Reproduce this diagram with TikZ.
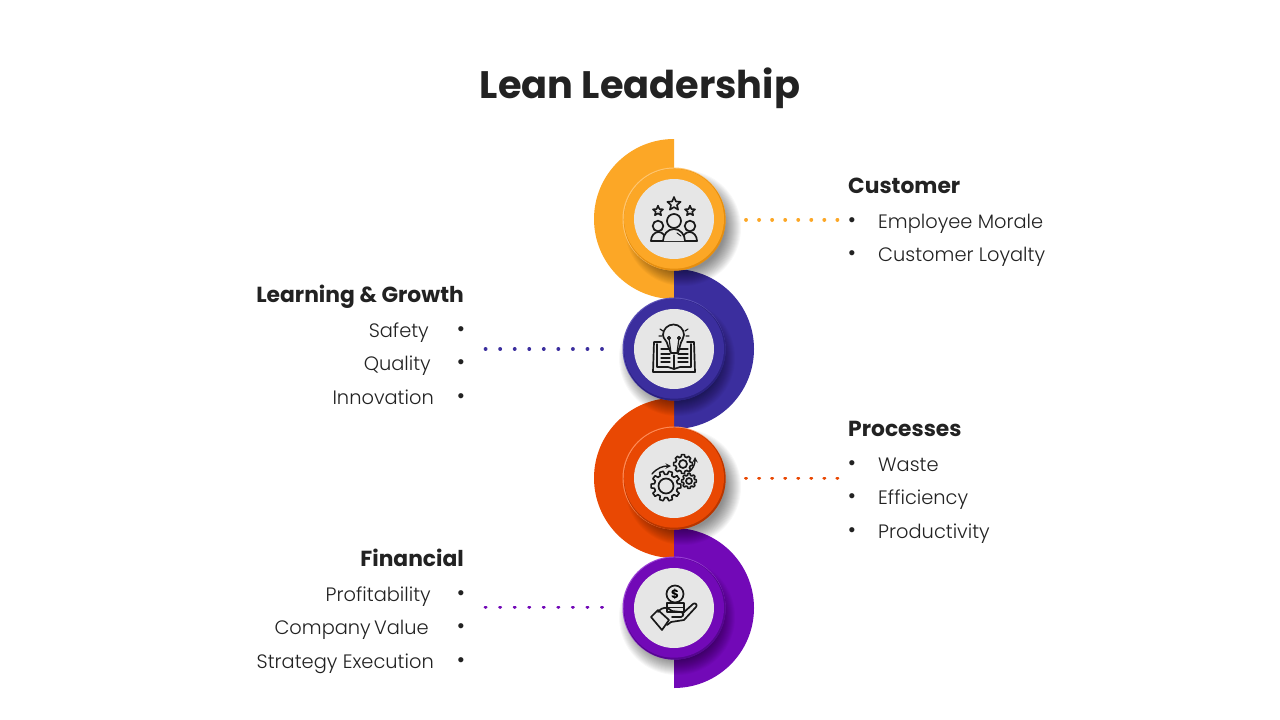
\documentclass[tikz,border=0pt]{standalone}
\usepackage{fontspec}
\setmainfont{Poppins Light}[BoldFont=Poppins Bold]
\newfontfamily\titlefont{Poppins Bold}
\newfontfamily\bulfont{Liberation Sans}
\usetikzlibrary{calc}
\definecolor{ink}{HTML}{222222}
\definecolor{cO}{HTML}{FCA726}\definecolor{cOd}{HTML}{E58E10}\definecolor{cOl}{HTML}{FFC56E}
\definecolor{cB}{HTML}{3B2E9E}\definecolor{cBd}{HTML}{2B2180}\definecolor{cBl}{HTML}{5B50B8}
\definecolor{cR}{HTML}{E94803}\definecolor{cRd}{HTML}{B83600}\definecolor{cRl}{HTML}{FF8A55}
\definecolor{cP}{HTML}{7209B7}\definecolor{cPd}{HTML}{560690}\definecolor{cPl}{HTML}{9A3FD6}
\definecolor{disc}{HTML}{E6E6E6}
\tikzset{
  x=1pt,y=-1pt,
  head/.style={font=\fontsize{21.8}{24}\selectfont\bfseries,text=ink,inner sep=0pt},
  ttl/.style={font=\fontsize{38.3}{40}\titlefont,text=ink,inner sep=0pt},
  item/.style={font=\fontsize{19.4}{22}\selectfont,text=ink,inner sep=0pt},
  bul/.style={font=\fontsize{19}{22}\bulfont,text=ink,inner sep=0pt},
  dots/.style={line width=3.8pt,line cap=round,dash pattern=on 0.05pt off #1},
  ic/.style={draw=black!90,line width=1.7pt,line join=round,line cap=round,fill=none},
}
\newcommand{\badge}[6]{%
  \foreach \r in {42,43,...,58}{
    \fill[black,opacity=.03] ($(#1)+(#6,9)$) circle[radius=\r];}
  \fill[#4] (#1) circle[radius=51.5];
  \fill[#3] ($(#1)+(.7,.7)$) circle[radius=51];
  \fill[#2] ($(#1)+(0,-.3)$) circle[radius=50];
  \node[circle,fill=disc,minimum size=80pt,inner sep=0pt] (#5) at (#1) {};
}
% centre x, centre y, radius, teeth
\newcommand{\geardraw}[4]{%
  \foreach \i in {1,...,#4}{
    \pgfmathsetmacro\st{360/#4}
    \draw[ic,line width=1.6pt]
      ({#1+#3*.78*cos((\i-.5)*\st)},{#2+#3*.78*sin((\i-.5)*\st)})
      arc[start angle={(\i-.5)*\st},delta angle={.18*\st},radius={#3*.78}]
      -- ({#1+#3*cos((\i-.2)*\st)},{#2+#3*sin((\i-.2)*\st)})
      -- ({#1+#3*cos((\i+.2)*\st)},{#2+#3*sin((\i+.2)*\st)})
      -- ({#1+#3*.78*cos((\i+.32)*\st)},{#2+#3*.78*sin((\i+.32)*\st)})
      arc[start angle={(\i+.32)*\st},delta angle={.18*\st},radius={#3*.78}];
  }
}
\newcommand{\starshape}[3]{%
  \draw[ic,line width=1.6pt]
    ({#1+#3*cos(-90)},{#2+#3*sin(-90)})
    -- ({#1+.45*#3*cos(-54)},{#2+.45*#3*sin(-54)})
    -- ({#1+#3*cos(-18)},{#2+#3*sin(-18)})
    -- ({#1+.45*#3*cos(18)},{#2+.45*#3*sin(18)})
    -- ({#1+#3*cos(54)},{#2+#3*sin(54)})
    -- ({#1+.45*#3*cos(90)},{#2+.45*#3*sin(90)})
    -- ({#1+#3*cos(126)},{#2+#3*sin(126)})
    -- ({#1+.45*#3*cos(162)},{#2+.45*#3*sin(162)})
    -- ({#1+#3*cos(198)},{#2+#3*sin(198)})
    -- ({#1+.45*#3*cos(234)},{#2+.45*#3*sin(234)})
    -- cycle;
}
\begin{document}
\begin{tikzpicture}
\useasboundingbox (0,0) rectangle (1280,720);
\fill[white] (0,0) rectangle (1280,720);
\node[ttl,anchor=base] (title) at (640,98) {Lean Leadership};
% half discs
\fill[cO] (674,139) arc[start angle=-90,delta angle=-180,radius=80] -- cycle;
\fill[cB] (674,269) arc[start angle=-90,delta angle=180,radius=80] -- cycle;
\fill[cR] (674,398) arc[start angle=-90,delta angle=-180,radius=80] -- cycle;
\fill[cP] (674,528) arc[start angle=-90,delta angle=180,radius=80] -- cycle;
% badges
\badge{674,219}{cO}{cOd}{cOl}{n1}{9}
\badge{674,349}{cB}{cBd}{cBl}{n2}{3}
\badge{674,478}{cR}{cRd}{cRl}{n3}{9}
\badge{674,608}{cP}{cPd}{cPl}{n4}{3}
% connectors
\coordinate (c1) at (746,219.6); \coordinate (c2) at (602,349);
\coordinate (c3) at (746,478.4); \coordinate (c4) at (602,607.4);
\coordinate (e1) at (838,219.6); \coordinate (e2) at (485,349);
\coordinate (e3) at (838,478.4); \coordinate (e4) at (485,607.4);
\draw[cO,dots=13pt] (c1) -- (e1);
\draw[cB,dots=14.5pt] (c2) -- (e2);
\draw[cR,dots=13pt] (c3) -- (e3);
\draw[cP,dots=14.5pt] (c4) -- (e4);
% right text
\node[head,anchor=base west] (h1) at (848,193) {Customer};
\node[bul] (b11) at (852,222) {•}; \node[item,anchor=base west] (t11) at (878,228) {Employee Morale};
\node[bul] (b12) at (852,255) {•}; \node[item,anchor=base west] (t12) at (878,261) {Customer Loyalty};
\node[head,anchor=base west] (h3) at (848,436) {Processes};
\node[bul] (b31) at (852,465) {•}; \node[item,anchor=base west] (t31) at (878,471) {Waste};
\node[bul] (b32) at (852,498) {•}; \node[item,anchor=base west] (t32) at (878,504) {Efficiency};
\node[bul] (b33) at (852,532) {•}; \node[item,anchor=base west] (t33) at (878,538) {Productivity};
% left text
\node[head,anchor=base east] (h2) at (464,302) {Learning \& Growth};
\node[bul] (b21) at (461,331.5) {•}; \node[item,anchor=base east] (t21) at (429,337) {Safety};
\node[bul] (b22) at (461,364.5) {•}; \node[item,anchor=base east] (t22) at (431,370) {Quality};
\node[bul] (b23) at (461,398.5) {•}; \node[item,anchor=base east] (t23) at (434,404) {Innovation};
\node[head,anchor=base east] (h4) at (464,566) {Financial};
\node[bul] (b41) at (461,595.5) {•}; \node[item,anchor=base east] (t41) at (431,601) {Profitability};
\node[bul] (b42) at (461,628.5) {•}; \node[item,anchor=base east] (t42) at (429,634) {Company\kern1.5pt\ \kern-3.5pt Value};
\node[bul] (b43) at (461,662.5) {•}; \node[item,anchor=base east] (t43) at (434,668) {Strategy Execution};
% icon 1
\starshape{674}{204}{7}\starshape{658}{211}{5.3}\starshape{690}{211}{5.3}
\draw[ic] (674,221) circle[radius=7];
\draw[ic] (658,226) circle[radius=5.3];
\draw[ic] (690,226) circle[radius=5.3];
\draw[ic] (651,241) -- (697,241);
\draw[ic] (651,241) arc[start angle=180,end angle=360,x radius=7.5,y radius=9];
\draw[ic] (682,241) arc[start angle=180,end angle=360,x radius=7.5,y radius=9];
\draw[ic,fill=disc] (663,241) arc[start angle=180,end angle=360,x radius=11,y radius=12];
\draw[ic,line width=1pt] (677,233) -- (681,236);
% icon 2
\draw[ic] (668,346) .. controls (667,340) and (663,339) .. (663,335) arc[start angle=180,end angle=360,radius=10.5] .. controls (684,339) and (681,340) .. (680,346) -- (678,353) -- (671,353) -- cycle;
\draw[ic,line width=1.2pt] (671,353) -- (669,338) (677,353) -- (679,338);
\draw[ic,line width=1.2pt] (669,338) circle[radius=1.5] (679,338) circle[radius=1.5];
\draw[ic,line width=1.2pt] (660,329) -- (663,331) (659,336) -- (662,336) (688,329) -- (685,331) (689,336) -- (686,336);
\draw[ic] (661,342) -- (654,342) -- (653,372) -- (695,372) -- (694,342) -- (687,342);
\draw[ic] (657,344) -- (657,367) -- (668,367) -- (674,369) -- (680,367) -- (691,367) -- (691,344);
\draw[ic] (674,355) -- (674,369);
\foreach \yy in {349,354,358,362}{
  \draw[ic,line width=1.2pt] (661,\yy) -- (670,\yy);
  \draw[ic,line width=1.2pt] (678,\yy) -- (688,\yy);}
% icon 3
\geardraw{666}{486}{15}{10}
\draw[ic] (666,486) circle[radius=7.5];
\geardraw{683}{464}{9.5}{8}
\draw[ic] (683,464) circle[radius=4];
\geardraw{689}{481}{7.5}{8}
\draw[ic] (689,481) circle[radius=3];
\draw[ic,line width=1.4pt,-stealth] (652,474) .. controls (657,468) and (663,466) .. (671,466);
\draw[ic,line width=1.4pt,-stealth] (689,472) .. controls (693,469) and (695,464) .. (695,457);
% icon 4
\draw[ic] (675,594) circle[radius=8.5];
\node[font=\fontsize{12}{12}\selectfont\bfseries,inner sep=0pt] (dollar) at (675,594) {\$};
\draw[ic] (667,603) -- (684,603) -- (684,612) -- (667,612) -- cycle;
\draw[ic] (667,607.5) -- (684,607.5);
\draw[ic] (651,617) -- (658,610) -- (669,620) -- (662,630) -- cycle;
\draw[ic] (658,612) .. controls (663,606) and (667,607) .. (672,611) -- (681,612)
  .. controls (684,613) and (684,616) .. (681,617) -- (672,617);
\draw[ic] (683,613) -- (693,604) .. controls (695,602) and (698,605) .. (696,607)
  -- (684,620) -- (671,622) -- (667,625);
\end{tikzpicture}
\end{document}
